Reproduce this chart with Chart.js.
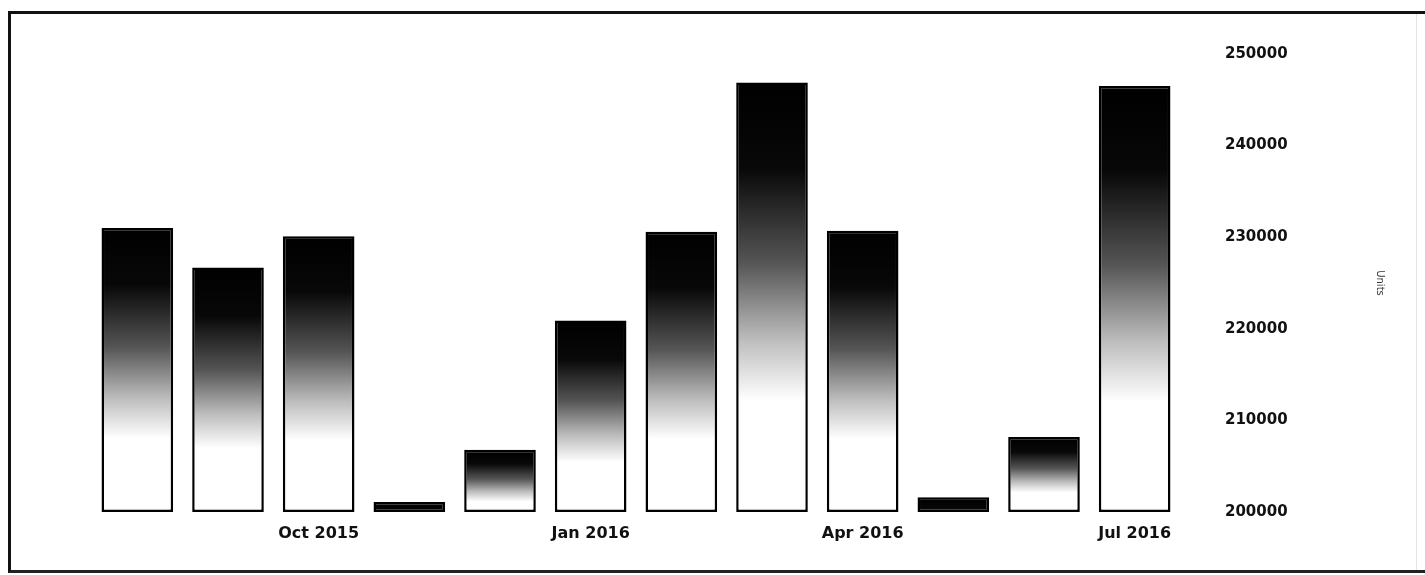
<!DOCTYPE html>
<html>
<head>
<meta charset="utf-8">
<script src="https://cdn.jsdelivr.net/npm/chart.js@4.4.1/dist/chart.umd.min.js"></script>
<style>
	html, body { margin: 0; padding: 0; background: #fff; }
	#wrap { position: relative; width: 1425px; height: 575px; overflow: hidden; }
	#frame {
		position: absolute; left: 8px; top: 11px; width: 1420px; height: 562px;
		border-left: 3px solid #111; border-top: 3px solid #111; border-bottom: 3px solid #222;
		box-sizing: border-box; pointer-events: none;
	}
	#frame-r { position: absolute; left: 1416px; top: 14px; width: 1px; height: 556px; background: #e4e4e4; }
	canvas { position: absolute; left: 0; top: 0; }
</style>
</head>
<body>
<div id="wrap">
	<canvas id="grafico" width="1425" height="575"></canvas>
	<div id="frame"></div>
	<div id="frame-r"></div>
</div>
<script>
	const meses = ['Aug 2015', 'Sep 2015', 'Oct 2015', 'Nov 2015', 'Dec 2015', 'Jan 2016',
		'Feb 2016', 'Mar 2016', 'Apr 2016', 'May 2016', 'Jun 2016', 'Jul 2016'];
	const unidades = [231000, 226700, 230100, 201100, 206800, 220900,
		230600, 246900, 230700, 201600, 208200, 246500];
	const yMin = 200000;
	const yMax = 250000;
	const yStep = 10000;
	const tituloY = 'Units';

	const fonte = 'DejaVu Sans, Verdana, sans-serif';

	// degradê preto -> branco, com extensão mínima para que barras baixas fiquem escuras
	function gradienteBarra(context) {
		const chart = context.chart;
		const { ctx, chartArea, scales } = chart;
		if (!chartArea || context.raw === undefined) return '#000';
		const topo = scales.y.getPixelForValue(context.raw);
		const base = scales.y.getPixelForValue(yMin);
		const altura = Math.max(base - topo, 70);
		const g = ctx.createLinearGradient(0, topo, 0, topo + altura);
		g.addColorStop(0, '#000000');
		g.addColorStop(0.2, '#080808');
		g.addColorStop(0.42, '#555555');
		g.addColorStop(0.6, '#bdbdbd');
		g.addColorStop(0.74, '#ffffff');
		g.addColorStop(1, '#ffffff');
		return g;
	}

	const ctx = document.getElementById('grafico').getContext('2d');

	new Chart(ctx, {
		type: 'bar',
		data: {
			labels: meses,
			datasets: [{
				label: tituloY,
				data: unidades,
				base: yMin,
				backgroundColor: gradienteBarra,
				borderColor: '#000',
				borderWidth: 2.5,
				borderSkipped: false,
				barPercentage: 0.79,
				categoryPercentage: 1,
				clip: 6
			}]
		},
		options: {
			responsive: false,
			animation: false,
			devicePixelRatio: 1,
			layout: { padding: { left: 92, top: 50, right: 35, bottom: 0 } },
			scales: {
				x: {
					grid: { display: false, drawTicks: false },
					border: { display: false },
					ticks: {
						color: '#111',
						font: { family: fonte, size: 16, weight: 'bold' },
						padding: 12,
						autoSkip: false,
						maxRotation: 0,
						callback: (value, index) => index % 3 === 2 ? meses[index] : ''
					},
					afterFit: (scale) => { scale.height = 63; }
				},
				y: {
					position: 'right',
					min: yMin,
					max: yMax,
					grid: { display: false, drawTicks: false },
					border: { display: false },
					ticks: {
						stepSize: yStep,
						color: '#111',
						font: { family: fonte, size: 15, weight: 'bold' },
						padding: 45,
						callback: (value) => String(value)
					},
					title: {
						display: true,
						text: tituloY,
						color: '#333',
						font: { family: fonte, size: 10 },
						padding: 4
					},
					afterFit: (scale) => { scale.width = 210; }
				}
			},
			plugins: {
				legend: { display: false },
				tooltip: { enabled: false }
			}
		}
	});
</script>
</body>
</html>
